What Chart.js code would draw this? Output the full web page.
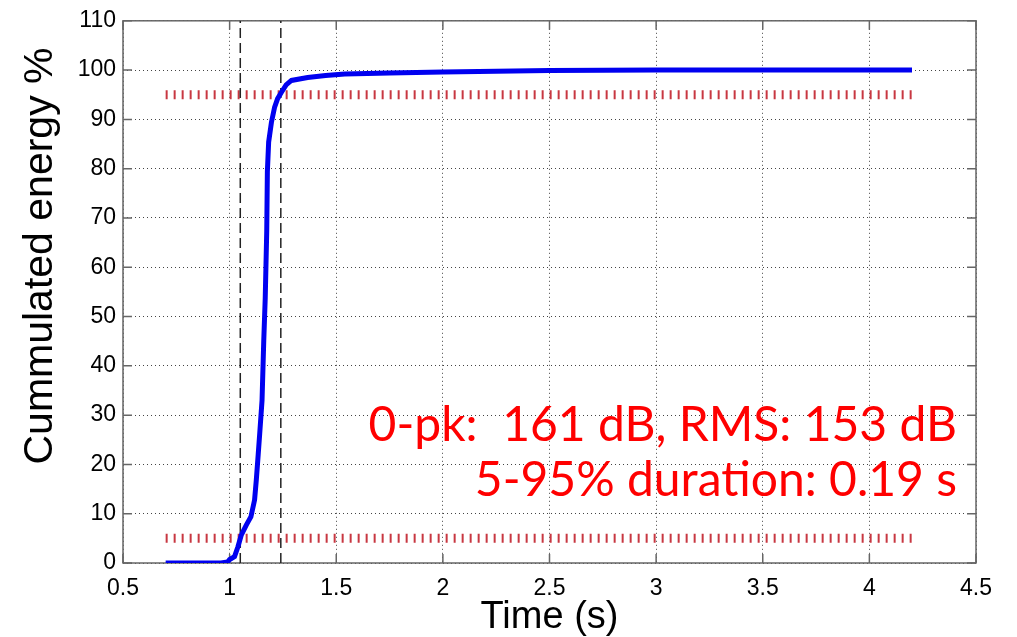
<!DOCTYPE html>
<html>
<head>
<meta charset="utf-8">
<script src="https://cdn.jsdelivr.net/npm/chart.js@4"></script>
<style>
html, body { margin: 0; padding: 0; background: #fff; }
#wrap { width: 1017px; height: 637px; }
</style>
</head>
<body>
<div id="wrap"><canvas id="energyChart" width="1017" height="637"></canvas></div>
<script>
// cumulative energy curve (time in s, energy in %)
const timeS = [0.7, 0.96, 0.99, 1.0, 1.023, 1.039, 1.055, 1.078, 1.1, 1.117, 1.125, 1.134, 1.141, 1.152, 1.16, 1.167, 1.174, 1.177, 1.183, 1.196, 1.211, 1.225, 1.243, 1.265, 1.29, 1.366, 1.45, 1.54, 1.75, 2.0, 2.5, 3.0, 4.2];
const energyPct = [0, 0, 0.2, 0.7, 1.3, 3.3, 5.7, 7.7, 9.4, 12.8, 16.8, 22, 26.2, 33, 45, 53.8, 67.3, 79.4, 85.4, 89.4, 92.5, 94.2, 95.5, 97.0, 97.9, 98.5, 98.9, 99.2, 99.4, 99.6, 99.9, 100, 100];

// 5 % and 95 % limits and the times where the curve crosses them
const thresholdPct = [5, 95];
const thresholdSpan = [0.7, 4.2];
const markerTimes = [1.05, 1.24];

const xTicks = [0.5, 1, 1.5, 2, 2.5, 3, 3.5, 4, 4.5];
const yTicks = [0, 10, 20, 30, 40, 50, 60, 70, 80, 90, 100, 110];

const infoLines = ['0-pk:  161 dB, RMS: 153 dB', '5-95% duration: 0.19 s'];
const yTitle = 'Cummulated energy %';

const axisFont = 'Liberation Sans, Arial, sans-serif';

function buildDatasets() {
    const sets = [];
    sets.push({
        label: 'energy',
        data: timeS.map((t, i) => ({ x: t, y: energyPct[i] })),
        borderColor: '#0000f0', borderWidth: 5, pointRadius: 0, tension: 0, order: 0
    });
    markerTimes.forEach(t => {
        sets.push({
            label: 'marker',
            data: [{ x: t, y: yTicks[0] }, { x: t, y: yTicks[yTicks.length - 1] }],
            borderColor: '#222', borderWidth: 1.5, borderDash: [10, 5], pointRadius: 0, order: 1
        });
    });
    thresholdPct.forEach(p => {
        sets.push({
            label: 'limit',
            data: [{ x: thresholdSpan[0], y: p }, { x: thresholdSpan[1], y: p }],
            borderColor: 'rgb(200,55,65)', borderWidth: 9, borderDash: [2, 6], borderCapStyle: 'butt',
            pointRadius: 0, order: 2
        });
    });
    return sets;
}

// box around the plot with inward tick marks, like the classic figure style
const framePlugin = {
    id: 'frame',
    beforeDatasetsDraw(chart) {
        const { ctx, chartArea: a, scales } = chart;
        ctx.save();
        ctx.strokeStyle = '#666';
        ctx.lineWidth = 1.5;
        ctx.setLineDash([]);
        ctx.strokeRect(a.left, a.top, a.right - a.left, a.bottom - a.top);
        ctx.beginPath();
        xTicks.forEach(v => {
            const px = scales.x.getPixelForValue(v);
            ctx.moveTo(px, a.bottom); ctx.lineTo(px, a.bottom - 9);
            ctx.moveTo(px, a.top); ctx.lineTo(px, a.top + 9);
        });
        yTicks.forEach(v => {
            const py = scales.y.getPixelForValue(v);
            ctx.moveTo(a.left, py); ctx.lineTo(a.left + 9, py);
            ctx.moveTo(a.right, py); ctx.lineTo(a.right - 9, py);
        });
        ctx.stroke();
        ctx.restore();
    },
    afterDraw(chart) {
        const { ctx } = chart;
        ctx.save();
        // y axis title
        ctx.translate(41, 256);
        ctx.rotate(-Math.PI / 2);
        ctx.fillStyle = '#000';
        ctx.font = '41px ' + axisFont;
        ctx.textAlign = 'center';
        ctx.textBaseline = 'middle';
        ctx.fillText(yTitle, 0, 0);
        ctx.restore();

        ctx.save();
        ctx.fillStyle = '#ff0000';
        ctx.font = '48px Lato, "Open Sans", sans-serif';
        ctx.textAlign = 'right';
        ctx.textBaseline = 'alphabetic';
        ctx.fillText(infoLines[0], 957, 441);
        ctx.fillText(infoLines[1], 957, 496);
        ctx.restore();
    }
};

function initChart() {
    const ctx = document.getElementById('energyChart').getContext('2d');
    return new Chart(ctx, {
        type: 'line',
        data: { datasets: buildDatasets() },
        options: {
            responsive: false,
            animation: false,
            devicePixelRatio: 1,
            layout: { padding: { top: 18, right: 41, left: 0, bottom: 0 } },
            plugins: { legend: { display: false }, tooltip: { enabled: false } },
            scales: {
                x: {
                    type: 'linear', min: 0.5, max: 4.5,
                    afterFit: s => { s.height = 74; },
                    afterBuildTicks: s => { s.ticks = xTicks.map(v => ({ value: v })); },
                    ticks: { color: '#000', padding: 12, font: { family: axisFont, size: 23 }, maxRotation: 0,
                        callback: v => String(v) },
                    grid: { color: '#444', lineWidth: 1, drawTicks: false },
                    border: { display: false, dash: [1, 3] },
                    title: { display: true, text: 'Time (s)', color: '#000', padding: 0,
                        font: { family: axisFont, size: 38, lineHeight: 1 } }
                },
                y: {
                    type: 'linear', min: 0, max: 110,
                    afterFit: s => { s.width = 123; },
                    afterBuildTicks: s => { s.ticks = yTicks.map(v => ({ value: v })); },
                    ticks: { color: '#000', padding: 7, font: { family: axisFont, size: 23 },
                        callback: v => String(v) },
                    grid: { color: '#444', lineWidth: 1, drawTicks: false },
                    border: { display: false, dash: [1, 3] }
                }
            }
        },
        plugins: [framePlugin]
    });
}

initChart();
</script>
</body>
</html>
